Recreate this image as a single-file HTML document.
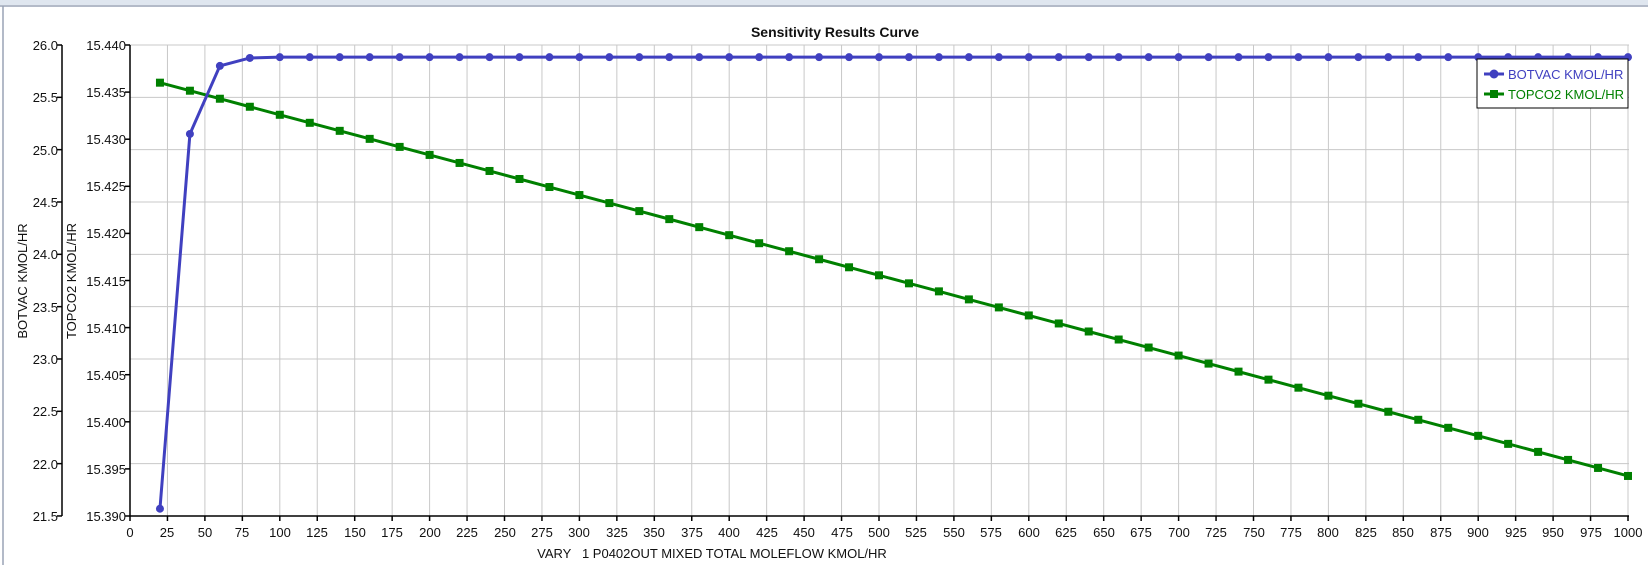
<!DOCTYPE html>
<html><head><meta charset="utf-8"><style>
html,body{margin:0;padding:0;background:#fff;width:1648px;height:565px;overflow:hidden}
svg text{font-family:"Liberation Sans",sans-serif;font-size:13px;fill:#111}
</style></head><body>
<svg id="s" width="1648" height="565" xmlns="http://www.w3.org/2000/svg">
<rect x="0" y="0" width="1648" height="5" fill="#dfe6ef"/>
<line x1="0" y1="6" x2="1648" y2="6" stroke="#9aa3b5" stroke-width="1.5"/>
<line x1="3" y1="6" x2="3" y2="565" stroke="#9aa3b5" stroke-width="1.5"/>
<text x="835" y="37" text-anchor="middle" style="font-weight:bold;font-size:14px">Sensitivity Results Curve</text>
<g id="grid" stroke="#c8c8c8" stroke-width="1"></g>
<line x1="130" y1="516" x2="1629" y2="516" stroke="#000" stroke-width="1.5"/>
<line x1="130" y1="45" x2="130" y2="516" stroke="#000" stroke-width="1.5"/>
<line x1="62" y1="45" x2="62" y2="516" stroke="#000" stroke-width="1.5"/>
<g id="ticks" stroke="#000" stroke-width="1.5"></g>
<g text-anchor="end">
<text x="58" y="50">26.0</text><text x="58" y="102">25.5</text><text x="58" y="155">25.0</text><text x="58" y="207">24.5</text><text x="58" y="259">24.0</text><text x="58" y="312">23.5</text><text x="58" y="364">23.0</text><text x="58" y="416">22.5</text><text x="58" y="469">22.0</text><text x="58" y="521">21.5</text>
<text x="126" y="50">15.440</text><text x="126" y="97">15.435</text><text x="126" y="144">15.430</text><text x="126" y="191">15.425</text><text x="126" y="238">15.420</text><text x="126" y="286">15.415</text><text x="126" y="333">15.410</text><text x="126" y="380">15.405</text><text x="126" y="427">15.400</text><text x="126" y="474">15.395</text><text x="126" y="521">15.390</text>
</g>
<g text-anchor="middle">
<text x="130" y="537">0</text><text x="167" y="537">25</text><text x="205" y="537">50</text><text x="242" y="537">75</text><text x="280" y="537">100</text><text x="317" y="537">125</text><text x="355" y="537">150</text><text x="392" y="537">175</text><text x="430" y="537">200</text><text x="467" y="537">225</text><text x="505" y="537">250</text><text x="542" y="537">275</text><text x="579" y="537">300</text><text x="617" y="537">325</text><text x="654" y="537">350</text><text x="692" y="537">375</text><text x="729" y="537">400</text><text x="767" y="537">425</text><text x="804" y="537">450</text><text x="842" y="537">475</text><text x="879" y="537">500</text><text x="916" y="537">525</text><text x="954" y="537">550</text><text x="991" y="537">575</text><text x="1029" y="537">600</text><text x="1066" y="537">625</text><text x="1104" y="537">650</text><text x="1141" y="537">675</text><text x="1179" y="537">700</text><text x="1216" y="537">725</text><text x="1254" y="537">750</text><text x="1291" y="537">775</text><text x="1328" y="537">800</text><text x="1366" y="537">825</text><text x="1403" y="537">850</text><text x="1441" y="537">875</text><text x="1478" y="537">900</text><text x="1516" y="537">925</text><text x="1553" y="537">950</text><text x="1591" y="537">975</text><text x="1628" y="537">1000</text>
<text x="712" y="558" style="white-space:pre" xml:space="preserve">VARY   1 P0402OUT MIXED TOTAL MOLEFLOW KMOL/HR</text>
<text transform="translate(27,281) rotate(-90)">BOTVAC KMOL/HR</text>
<text transform="translate(76,281) rotate(-90)">TOPCO2 KMOL/HR</text>
</g>
<g id="series"></g>
<rect x="1477" y="59" width="151" height="49" fill="#fff" stroke="#000" stroke-width="1"/>
<line x1="1484" y1="74" x2="1504" y2="74" stroke="#4040c0" stroke-width="3"/><circle cx="1494" cy="74" r="4.5" fill="#4040c0"/>
<text x="1508" y="79" style="fill:#4040c0">BOTVAC KMOL/HR</text>
<line x1="1484" y1="94" x2="1504" y2="94" stroke="#008000" stroke-width="3"/><rect x="1490" y="90" width="8" height="8" fill="#008000"/>
<text x="1508" y="99" style="fill:#008000">TOPCO2 KMOL/HR</text>
</svg>
<script>
var NS="http://www.w3.org/2000/svg";
function X(v){return 130+v*1.498;}
function YL(v){return 45+(26-v)*104.67;}
function YR(v){return 45+(15.44-v)/0.05*471;}
function el(t,a,p){var e=document.createElementNS(NS,t);for(var k in a)e.setAttribute(k,a[k]);p.appendChild(e);return e;}
var g=document.getElementById('grid'),tk=document.getElementById('ticks'),s=document.getElementById('series');
for(var i=1;i<=40;i++){var x=X(i*25);el('line',{x1:x,y1:45,x2:x,y2:516},g);el('line',{x1:x,y1:516,x2:x,y2:521},tk);}
el('line',{x1:130,y1:516,x2:130,y2:521},tk);
for(var j=0;j<9;j++){var y=45+j*52.33;el('line',{x1:130,y1:y,x2:1629,y2:y},g);}
for(var j=0;j<10;j++){var y=45+j*52.33;el('line',{x1:57,y1:y,x2:62,y2:y},tk);}
for(var j=0;j<11;j++){var y=45+j*47.1;el('line',{x1:125,y1:y,x2:130,y2:y},tk);}
var b=[],t=[];
for(var i=1;i<=50;i++){var v=i*20;var bv=v==20?21.57:v==40?25.15:v==60?25.80:v==80?25.876:25.884;
b.push([X(v),YL(bv)]);t.push([X(v),YR(15.4360-(v-20)/980*0.04175)]);}
el('polyline',{points:t.map(function(p){return p.join(',')}).join(' '),fill:'none',stroke:'#008000','stroke-width':3},s);
t.forEach(function(p){el('rect',{x:p[0]-4,y:p[1]-4,width:8,height:8,fill:'#008000'},s);});
el('polyline',{points:b.map(function(p){return p.join(',')}).join(' '),fill:'none',stroke:'#4040c0','stroke-width':3},s);
b.forEach(function(p){el('circle',{cx:p[0],cy:p[1],r:4,fill:'#4040c0'},s);});
</script>
</body></html>
